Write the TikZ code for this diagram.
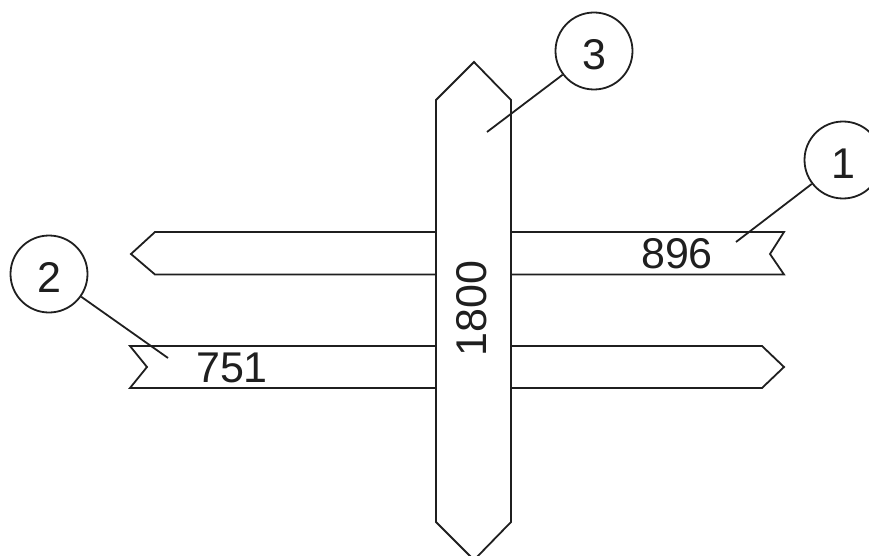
\documentclass[tikz,border=0pt]{standalone}
\usepackage{fontspec}
\setmainfont{Liberation Sans}
\newcommand{\lowered}[1]{\raisebox{-3.5pt}[\height][0pt]{#1}}
\tikzset{
  plank/.style={draw=black!88,line width=1.8pt,line join=miter,fill=white},
  callout/.style={circle,draw=black!88,line width=1.8pt,fill=white,minimum size=77pt,inner sep=0pt,font=\fontsize{43}{43}\selectfont,text=black!88},
  dimtext/.style={inner sep=0pt,font=\fontsize{43}{43}\selectfont,text=black!88},
  leader/.style={draw=black!88,line width=1.8pt}
}
\begin{document}
\begin{tikzpicture}[x=1pt,y=-1pt]
\useasboundingbox (0,0) rectangle (869,556);
\clip (0,0) rectangle (869,556);
% horizontal planks
\draw[plank] (784,232) -- (155,232) -- (131,254) -- (155,274.5) -- (784,274.5) -- (770,254) -- cycle;
\draw[plank] (130,346) -- (762,346) -- (784,367) -- (762,388) -- (130,388) -- (147,367) -- cycle;
% vertical plank
\draw[plank] (474,62) -- (511,100) -- (511,522) -- (474,560) -- (436,522) -- (436,100) -- cycle;
% dimensions
\node[dimtext] (d896) at (677,254) {896};
\node[dimtext] (d751) at (232,368) {751};
\node[dimtext,rotate=90] (d1800) at (472,308.5) {1800};
% callouts
\node[callout] (c1) at (843,160) {\lowered{1}};
\node[callout] (c2) at (49,274) {\lowered{2}};
\node[callout] (c3) at (594,51) {\lowered{3}};
\coordinate (e1) at (736,242);
\coordinate (e2) at (168,358);
\coordinate (e3) at (487,132);
\draw[leader] (c1) -- (e1);
\draw[leader] (c2) -- (e2);
\draw[leader] (c3) -- (e3);
\end{tikzpicture}
\end{document}
